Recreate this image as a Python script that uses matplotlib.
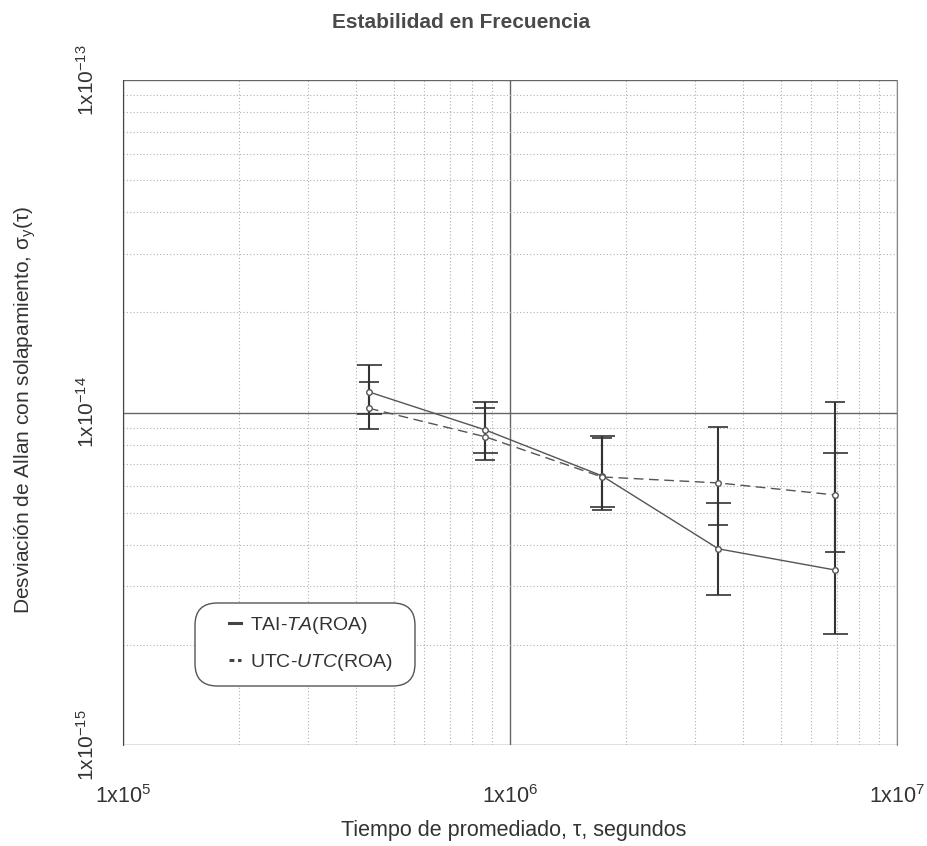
import matplotlib
matplotlib.use("Agg")
import matplotlib.pyplot as plt
import numpy as np
from matplotlib.ticker import LogLocator, NullFormatter, FixedLocator
from matplotlib.lines import Line2D
from matplotlib.patches import FancyBboxPatch

plt.rcParams['font.family'] = ['Liberation Sans', 'DejaVu Sans']
plt.rcParams['mathtext.fontset'] = 'custom'
plt.rcParams['mathtext.rm'] = 'Liberation Sans'
plt.rcParams['mathtext.it'] = 'Liberation Sans:italic'

# Data
tau = [432000, 864000, 1728000, 3456000, 6912000]
tai_sigma = [1.153e-14, 0.886e-14, 0.645e-14, 0.389e-14, 0.336e-14]
tai_low = [0.99e-14, 0.755e-14, 0.52e-14, 0.283e-14, 0.216e-14]
tai_high = [1.39e-14, 1.076e-14, 0.85e-14, 0.535e-14, 0.755e-14]
utc_sigma = [1.03e-14, 0.845e-14, 0.64e-14, 0.614e-14, 0.565e-14]
utc_low = [0.89e-14, 0.72e-14, 0.51e-14, 0.46e-14, 0.38e-14]
utc_high = [1.236e-14, 1.03e-14, 0.84e-14, 0.905e-14, 1.075e-14]

xticks = [1e5, 1e6, 1e7]
xticklabels = [r'1x10$^{5}$', r'1x10$^{6}$', r'1x10$^{7}$']
yticks = [1e-15, 1e-14, 1e-13]
yticklabels = [r'1x10$^{-15}$', r'1x10$^{-14}$', r'1x10$^{-13}$']
series_labels = [r'TAI-$\mathit{TA}$(ROA)', r'UTC-$\mathit{UTC}$(ROA)']

fig = plt.figure(figsize=(9.27, 8.46), dpi=100)
ax = fig.add_axes([123/927, 1-745/846, (897-123)/927, (745-80)/846])
ax.set_xscale('log')
ax.set_yscale('log')
ax.set_xlim(1e5, 1e7)
ax.set_ylim(1e-15, 1e-13)

ax.xaxis.set_major_locator(FixedLocator(xticks))
ax.yaxis.set_major_locator(FixedLocator(yticks))
ax.xaxis.set_minor_locator(LogLocator(base=10, subs=np.arange(2, 10)))
ax.yaxis.set_minor_locator(LogLocator(base=10, subs=np.arange(2, 10)))
ax.xaxis.set_minor_formatter(NullFormatter())
ax.yaxis.set_minor_formatter(NullFormatter())
ax.set_xticklabels(xticklabels, fontsize=15.5, color='#333333')
ax.set_yticklabels(yticklabels, fontsize=15, color='#333333', rotation=90, va='center')
ax.tick_params(axis='x', which='both', length=0, pad=29)
ax.tick_params(axis='y', which='both', length=0, pad=18)

ax.grid(which='major', color='#666666', linestyle='-', linewidth=1.0)
ax.grid(which='minor', color='#b0b0b0', linestyle=(0, (1, 2)), linewidth=0.8)

for s in ['top', 'bottom']:
    ax.spines[s].set_visible(False)
ax.spines['left'].set_color('#444444')
ax.spines['right'].set_color('#888888')

tai_err = [np.array(tai_sigma) - np.array(tai_low), np.array(tai_high) - np.array(tai_sigma)]
utc_err = [np.array(utc_sigma) - np.array(utc_low), np.array(utc_high) - np.array(utc_sigma)]

ax.errorbar(tau, tai_sigma, yerr=tai_err, color='#555555', ecolor='#333333',
            linestyle='-', linewidth=1.0, elinewidth=1.5, capsize=9, capthick=1.2,
            marker='o', markersize=4, markerfacecolor='white', markeredgecolor='#555555',
            zorder=3)
ax.errorbar(tau, utc_sigma, yerr=utc_err, color='#555555', ecolor='#333333',
            linestyle=(0, (7, 4)), linewidth=1.0, elinewidth=1.5, capsize=7, capthick=1.2,
            marker='o', markersize=4, markerfacecolor='white', markeredgecolor='#555555',
            zorder=3)

# legend box
box = FancyBboxPatch((195/927, 1-686/846), 220/927, 83/846, transform=fig.transFigure,
                     boxstyle='round,pad=0,rounding_size=0.024', mutation_aspect=927/846,
                     facecolor='white', edgecolor='#555555', linewidth=1.0, zorder=5)
fig.add_artist(box)

h1 = Line2D([], [], color='#444444', linestyle='-', linewidth=2.2)
h2 = Line2D([], [], color='#444444', linestyle=(0, (1.6, 1.2)), linewidth=2.2)
leg = fig.legend([h1, h2], series_labels,
                 loc='center', bbox_to_anchor=(311/927, 1-644/846), fontsize=14,
                 handlelength=0.6, labelspacing=0.85, handletextpad=0.45,
                 frameon=False, borderpad=0)
leg.set_zorder(6)
for t in leg.get_texts():
    t.set_color('#333333')

fig.text(461/927, 1-22/846, 'Estabilidad en Frecuencia', ha='center', va='center',
         fontsize=15, fontweight='bold', color='#4a4a4a')
fig.text(514/927, 1-830/846, 'Tiempo de promediado, τ, segundos', ha='center', va='center',
         fontsize=15.5, color='#333333')
fig.text(25/927, 1-410/846, r'Desviación de Allan con solapamiento, σ$_{\mathrm{y}}$(τ)',
         ha='center', va='center', rotation=90, fontsize=15, color='#333333')

fig.savefig('out.png', dpi=100, facecolor='white')
